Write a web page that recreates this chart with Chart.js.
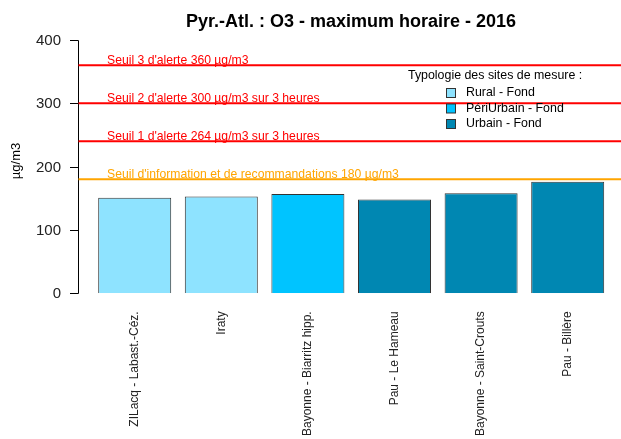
<!DOCTYPE html>
<html>
<head>
<meta charset="utf-8">
<script src="https://cdn.jsdelivr.net/npm/chart.js@4/dist/chart.umd.min.js"></script>
<style>
  html, body { margin: 0; padding: 0; background: #fff; }
  #wrap { width: 621px; height: 439px; position: relative; }
</style>
</head>
<body>
<div id="wrap"><canvas id="myChart"></canvas></div>
<script>
const sites = ["ZILacq - Labast.-Céz.", "Iraty", "Bayonne - Biarritz hipp.", "Pau - Le Hameau", "Bayonne - Saint-Crouts", "Pau - Billère"];
const maxHoraire = [151, 153, 157, 148, 158, 176];
const siteType = [0, 0, 1, 2, 2, 2];

const typeNames = ["Rural - Fond", "PériUrbain - Fond", "Urbain - Fond"];
const typeColors = ["#8EE3FF", "#00C4FF", "#0087B2"];

const yTicks = [0, 100, 200, 300, 400];

const seuilValues = [360, 300, 240, 180];
const seuilLabels = [
  "Seuil 3 d'alerte 360 µg/m3",
  "Seuil 2 d'alerte 300 µg/m3 sur 3 heures",
  "Seuil 1 d'alerte 264 µg/m3 sur 3 heures",
  "Seuil d'information et de recommandations 180 µg/m3"
];
const seuilColors = ["#FF0000", "#FF0000", "#FF0000", "#FFA500"];

const titleText = "Pyr.-Atl. : O3 - maximum horaire - 2016";
const legendTitle = "Typologie des sites de mesure :";
const yTitle = "µg/m3";

const FONT = "'Liberation Sans', Arial, sans-serif";

// axes, seuils, titre et légende dessinés à la main (style R)
const extras = {
  id: "extras",
  afterDraw(chart) {
    const ctx = chart.ctx;
    const y = chart.scales.y;
    const axisX = 78.5;

    ctx.save();
    // axe Y
    ctx.strokeStyle = "#000";
    ctx.lineWidth = 1;
    ctx.beginPath();
    ctx.moveTo(axisX, Math.round(y.getPixelForValue(400)) + 0.5);
    ctx.lineTo(axisX, Math.round(y.getPixelForValue(0)) + 0.5);
    ctx.stroke();
    ctx.font = "15px " + FONT;
    ctx.fillStyle = "#222";
    ctx.textAlign = "right";
    ctx.textBaseline = "middle";
    yTicks.forEach(v => {
      const py = Math.round(y.getPixelForValue(v)) + 0.5;
      ctx.beginPath();
      ctx.moveTo(70, py);
      ctx.lineTo(axisX, py);
      ctx.stroke();
      ctx.fillText(String(v), 61, py);
    });

    // titre axe Y
    ctx.save();
    ctx.translate(16, 161);
    ctx.rotate(-Math.PI / 2);
    ctx.textAlign = "center";
    ctx.font = "13px " + FONT;
    ctx.fillStyle = "#000";
    ctx.fillText(yTitle, 0, 0);
    ctx.restore();

    // seuils
    ctx.lineWidth = 2;
    ctx.font = "12.2px " + FONT;
    ctx.textAlign = "left";
    ctx.textBaseline = "alphabetic";
    seuilValues.forEach((v, i) => {
      const py = y.getPixelForValue(v);
      ctx.strokeStyle = seuilColors[i];
      ctx.beginPath();
      ctx.moveTo(axisX, py);
      ctx.lineTo(chart.width, py);
      ctx.stroke();
      ctx.fillStyle = seuilColors[i];
      ctx.fillText(seuilLabels[i], 107, py - 1.5);
    });

    // titre
    ctx.fillStyle = "#000";
    ctx.font = "bold 18px " + FONT;
    ctx.textAlign = "center";
    ctx.fillText(titleText, 351, 27);

    // légende
    ctx.font = "12.4px " + FONT;
    ctx.textAlign = "left";
    ctx.textBaseline = "middle";
    ctx.fillStyle = "#000";
    ctx.fillText(legendTitle, 408, 76);
    ctx.lineWidth = 1;
    typeNames.forEach((name, i) => {
      const py = 93 + i * 15.5;
      ctx.fillStyle = typeColors[i];
      ctx.fillRect(446.5, py - 4.5, 9, 9);
      ctx.strokeStyle = "#333";
      ctx.strokeRect(446.5, py - 4.5, 9, 9);
      ctx.fillStyle = "#000";
      ctx.fillText(name, 466, py);
    });
    ctx.restore();
  }
};

new Chart(document.getElementById("myChart"), {
  type: "bar",
  data: {
    labels: sites,
    datasets: [{
      data: maxHoraire,
      backgroundColor: siteType.map(t => typeColors[t]),
      borderColor: "#333",
      borderWidth: 1,
      barPercentage: 0.843,
      categoryPercentage: 1
    }]
  },
  options: {
    responsive: true,
    maintainAspectRatio: false,
    animation: false,
    layout: { padding: { left: 91.4, right: 10, top: 40, bottom: 0 } },
    plugins: {
      legend: { display: false },
      tooltip: { enabled: false }
    },
    scales: {
      x: {
        grid: { display: false, drawTicks: false },
        border: { display: false },
        ticks: {
          autoSkip: false,
          minRotation: 90,
          maxRotation: 90,
          padding: 18,
          color: "#222",
          font: { family: FONT, size: 12 }
        },
        afterFit(s) { s.height = 145.7; }
      },
      y: {
        display: false,
        min: 0,
        max: 400
      }
    }
  },
  plugins: [extras]
});
</script>
</body>
</html>
